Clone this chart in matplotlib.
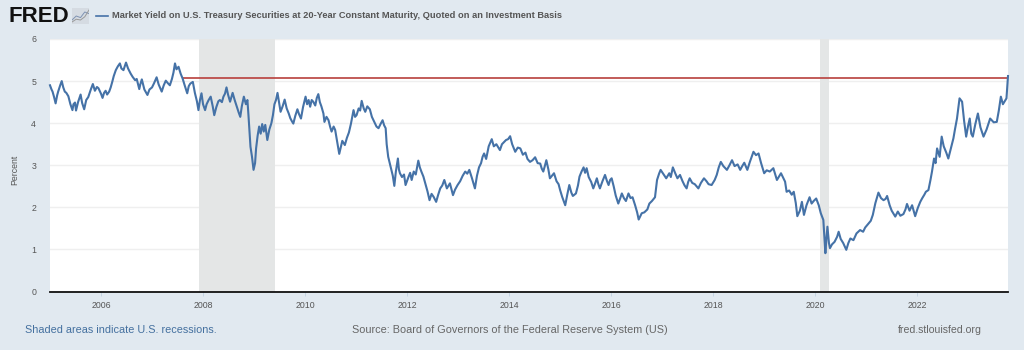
import numpy as np
import matplotlib
matplotlib.use('Agg')
import matplotlib.pyplot as plt
from matplotlib.lines import Line2D

plt.rcParams['font.family'] = ['Liberation Sans', 'DejaVu Sans']

title = 'Market Yield on U.S. Treasury Securities at 20-Year Constant Maturity, Quoted on an Investment Basis'

# one row per calendar year
years = [
2005.00,2005.03,2005.05,2005.08,2005.11,2005.14,2005.16,2005.20,2005.23,2005.26,2005.29,2005.32,2005.36,2005.40,2005.44,2005.46,2005.49,2005.51,2005.55,2005.60,2005.63,2005.67,2005.71,2005.75,2005.80,2005.84,2005.88,2005.92,2005.95,
2006.00,2006.03,2006.06,2006.09,2006.12,2006.16,2006.19,2006.22,2006.25,2006.29,2006.33,2006.37,2006.40,2006.44,2006.46,2006.49,2006.53,2006.58,2006.62,2006.67,2006.70,2006.75,2006.77,2006.80,2006.85,2006.91,2006.95,
2007.00,2007.04,2007.09,2007.13,2007.19,2007.23,2007.27,2007.31,2007.35,2007.39,2007.42,2007.45,2007.48,2007.52,2007.56,2007.60,2007.64,2007.69,2007.72,2007.75,2007.80,2007.84,2007.88,2007.91,2007.94,2007.97,
2008.00,2008.04,2008.07,2008.11,2008.15,2008.19,2008.22,2008.26,2008.30,2008.33,2008.37,2008.40,2008.43,2008.46,2008.49,2008.53,2008.58,2008.62,2008.66,2008.70,2008.73,2008.76,2008.80,2008.84,2008.87,2008.89,2008.91,2008.93,2008.96,2008.99,
2009.02,2009.04,2009.07,2009.10,2009.13,2009.16,2009.19,2009.22,2009.26,2009.30,2009.34,2009.37,2009.40,2009.43,2009.46,2009.49,2009.52,2009.56,2009.60,2009.64,2009.68,2009.71,2009.74,2009.77,2009.81,2009.85,2009.88,2009.92,2009.96,
2010.01,2010.04,2010.07,2010.10,2010.13,2010.16,2010.20,2010.23,2010.26,2010.29,2010.32,2010.36,2010.38,2010.42,2010.46,2010.49,2010.52,2010.56,2010.59,2010.63,2010.67,2010.70,2010.73,2010.78,2010.82,2010.86,2010.90,2010.95,2010.98,
2011.01,2011.05,2011.08,2011.11,2011.15,2011.18,2011.22,2011.27,2011.31,2011.35,2011.40,2011.44,2011.48,2011.52,2011.55,2011.58,2011.60,2011.63,2011.66,2011.69,2011.72,2011.75,2011.78,2011.82,2011.84,2011.86,2011.90,2011.94,2011.97,
2012.03,2012.06,2012.09,2012.13,2012.17,2012.22,2012.25,2012.28,2012.32,2012.36,2012.40,2012.44,2012.48,2012.52,2012.57,2012.61,2012.65,2012.69,2012.73,2012.78,2012.84,2012.90,2012.94,2012.99,
2013.04,2013.09,2013.14,2013.18,2013.22,2013.27,2013.33,2013.37,2013.41,2013.45,2013.48,2013.51,2013.55,2013.60,2013.66,2013.70,2013.75,2013.82,2013.86,2013.90,2013.94,2013.98,
2014.02,2014.06,2014.12,2014.17,2014.22,2014.27,2014.32,2014.36,2014.41,2014.46,2014.51,2014.56,2014.61,2014.64,2014.67,2014.70,2014.73,2014.77,2014.80,2014.84,2014.88,2014.93,2014.97,
2015.00,2015.04,2015.07,2015.10,2015.14,2015.18,2015.22,2015.25,2015.31,2015.35,2015.38,2015.42,2015.46,2015.49,2015.52,2015.56,2015.61,2015.65,2015.69,2015.72,2015.75,2015.78,2015.83,2015.88,2015.92,2015.95,2015.98,
2016.01,2016.05,2016.09,2016.14,2016.18,2016.21,2016.25,2016.29,2016.34,2016.38,2016.42,2016.47,2016.51,2016.54,2016.60,2016.65,2016.71,2016.75,2016.80,2016.86,2016.90,2016.94,2016.97,
2017.03,2017.08,2017.14,2017.17,2017.21,2017.26,2017.30,2017.35,2017.40,2017.44,2017.48,2017.51,2017.54,2017.59,2017.64,2017.71,2017.76,2017.82,2017.87,2017.91,2017.97,
2018.03,2018.07,2018.11,2018.15,2018.20,2018.27,2018.32,2018.37,2018.42,2018.48,2018.53,2018.57,2018.61,2018.67,2018.72,2018.79,2018.84,2018.89,2018.94,
2019.00,2019.05,2019.11,2019.18,2019.25,2019.33,2019.41,2019.44,2019.49,2019.54,2019.58,2019.62,2019.65,2019.70,2019.74,2019.78,2019.83,2019.89,2019.93,2019.97,
2020.02,2020.07,2020.11,2020.16,2020.18,2020.20,2020.22,2020.24,2020.27,2020.29,2020.33,2020.38,2020.43,2020.46,2020.50,2020.55,2020.61,2020.65,2020.69,2020.75,2020.81,2020.88,2020.94,2020.98,
2021.05,2021.09,2021.13,2021.18,2021.24,2021.29,2021.34,2021.38,2021.41,2021.46,2021.50,2021.57,2021.62,2021.67,2021.73,2021.77,2021.80,2021.85,2021.90,2021.96,
2022.01,2022.06,2022.10,2022.14,2022.17,2022.22,2022.26,2022.29,2022.33,2022.36,2022.39,2022.44,2022.48,2022.52,2022.57,2022.61,2022.66,2022.71,2022.74,2022.78,2022.83,2022.88,2022.92,2022.96,
2023.00,2023.03,2023.06,2023.09,2023.14,2023.19,2023.24,2023.30,2023.36,2023.43,2023.50,2023.56,2023.60,2023.64,2023.68,2023.71,2023.75,2023.77,2023.78]

yields = [
4.90,4.80,4.75,4.62,4.47,4.66,4.75,4.90,5.00,4.85,4.75,4.72,4.64,4.45,4.31,4.45,4.49,4.30,4.50,4.68,4.48,4.33,4.55,4.62,4.80,4.93,4.77,4.86,4.83,
4.70,4.60,4.72,4.77,4.68,4.75,4.85,4.98,5.12,5.26,5.35,5.42,5.30,5.26,5.33,5.44,5.30,5.18,5.10,5.02,5.05,4.81,4.92,5.04,4.80,4.67,4.80,
4.85,4.95,5.09,4.92,4.75,4.90,5.01,4.95,4.90,5.05,5.20,5.42,5.28,5.34,5.18,5.06,4.90,4.71,4.88,4.94,4.98,4.72,4.52,4.31,4.55,4.71,
4.45,4.31,4.45,4.55,4.63,4.40,4.19,4.38,4.52,4.55,4.50,4.63,4.70,4.85,4.68,4.51,4.72,4.55,4.40,4.25,4.15,4.40,4.63,4.45,4.55,4.20,3.80,3.44,3.20,2.89,
3.05,3.40,3.70,3.92,3.75,3.98,3.80,3.96,3.60,3.85,4.00,4.19,4.45,4.55,4.72,4.50,4.27,4.40,4.56,4.35,4.23,4.12,4.05,3.99,4.18,4.33,4.22,4.11,4.38,
4.63,4.45,4.55,4.39,4.55,4.51,4.42,4.60,4.69,4.50,4.40,4.23,4.03,4.15,4.07,3.92,3.80,3.92,3.84,3.55,3.27,3.42,3.58,3.48,3.65,3.78,3.99,4.31,4.15,
4.19,4.35,4.30,4.53,4.35,4.27,4.40,4.33,4.15,4.05,3.92,3.88,3.98,4.07,3.95,3.88,3.50,3.20,3.05,2.90,2.75,2.51,2.85,3.16,2.90,2.81,2.72,2.78,2.53,
2.73,2.82,2.65,2.85,2.78,3.11,2.95,2.85,2.73,2.55,2.38,2.17,2.32,2.25,2.13,2.30,2.45,2.52,2.65,2.45,2.57,2.29,2.42,2.53,
2.62,2.75,2.85,2.80,2.89,2.70,2.45,2.75,2.95,3.05,3.20,3.28,3.15,3.45,3.62,3.45,3.50,3.36,3.50,3.55,3.60,3.62,
3.69,3.50,3.32,3.42,3.40,3.25,3.30,3.15,3.08,3.12,3.19,3.05,3.04,2.92,2.85,2.98,3.12,2.90,2.69,2.75,2.81,2.62,2.55,
2.41,2.25,2.15,2.05,2.30,2.53,2.35,2.27,2.33,2.52,2.73,2.85,2.95,2.82,2.93,2.72,2.60,2.45,2.58,2.69,2.55,2.45,2.62,2.77,2.62,2.53,2.65,
2.69,2.50,2.28,2.09,2.22,2.33,2.22,2.15,2.33,2.22,2.24,2.05,1.88,1.71,1.86,1.88,1.95,2.09,2.15,2.24,2.65,2.80,2.89,
2.78,2.69,2.81,2.72,2.95,2.80,2.69,2.77,2.62,2.52,2.45,2.60,2.69,2.58,2.55,2.45,2.58,2.69,2.62,2.55,2.53,
2.65,2.77,2.95,3.08,2.98,2.89,3.00,3.12,2.98,3.02,2.89,2.98,3.06,2.89,3.08,3.32,3.24,3.28,3.05,
2.81,2.88,2.85,2.93,2.65,2.81,2.61,2.37,2.40,2.30,2.37,2.10,1.79,1.92,2.13,1.82,2.05,2.24,2.09,2.15,
2.21,2.05,1.86,1.70,1.30,0.91,1.25,1.54,1.15,1.03,1.12,1.18,1.30,1.42,1.25,1.15,0.99,1.15,1.26,1.22,1.38,1.46,1.42,1.52,
1.62,1.68,1.82,2.10,2.35,2.22,2.17,2.20,2.27,2.05,1.92,1.78,1.90,1.80,1.84,1.95,2.08,1.92,2.05,1.79,
1.98,2.13,2.22,2.30,2.37,2.41,2.65,2.85,3.16,3.05,3.40,3.20,3.68,3.45,3.30,3.16,3.40,3.64,3.85,4.11,4.59,4.51,4.05,3.68,
3.95,4.11,3.75,3.68,3.98,4.23,3.90,3.68,3.85,4.11,4.02,4.03,4.30,4.63,4.45,4.51,4.59,4.95,5.12]

ref_years = [2007.60, 2023.78]
ref_level = [5.07, 5.07]

recessions = [(2007.92, 2009.42), (2020.10, 2020.28)]
xticks = [2006, 2008, 2010, 2012, 2014, 2016, 2018, 2020, 2022]
yticks = [0, 1, 2, 3, 4, 5, 6]

W, H = 1024, 350
bg = '#e1e9f0'
blue = '#4572a7'
grey_text = '#555555'

fig = plt.figure(figsize=(W/100, H/100), dpi=100, facecolor=bg)
ax = fig.add_axes([50/W, 1-291.5/H, 958/W, 252.5/H])
ax.set_xlim(2005, 2023.78)
ax.set_ylim(0, 6)

for a, b in recessions:
    ax.axvspan(a, b, color='#e4e6e6', lw=0, zorder=1)
ax.grid(axis='y', color='#efefef', lw=1, zorder=0)
ax.set_axisbelow(True)

ax.plot(ref_years, ref_level, color='#b8403c', lw=1.2, zorder=2)
ax.plot(years, yields, color=blue, lw=1.5, zorder=3, solid_joinstyle='round', clip_on=False)

for s in ['top', 'right', 'left']:
    ax.spines[s].set_visible(False)
ax.spines['bottom'].set_color('#111111')
ax.spines['bottom'].set_linewidth(1.3)

ax.set_xticks(xticks)
ax.set_yticks(yticks)
ax.tick_params(axis='x', length=3, width=0.6, color='#c0d0e0', labelsize=6.3, labelcolor=grey_text, pad=4)
ax.tick_params(axis='y', length=0, labelsize=6.3, labelcolor=grey_text, pad=10)
ax.text(15/W, 1-170/H, 'Percent', transform=fig.transFigure, rotation=90, ha='center', va='center',
        fontsize=6.3, color=grey_text)

# header
fig.text(8/W, 1-16/H, 'FRED', fontsize=16, fontweight='bold', color='#111111', ha='left', va='center')
icon = fig.add_axes([72/W, 1-24/H, 17/W, 16/H])
icon.plot([0, 1, 2, 3, 4], [1, 2, 1.6, 3, 2.6], color='#7f93b2', lw=0.7)
icon.plot([0, 1, 2, 3, 4], [0.5, 1.2, 1.0, 1.8, 3.5], color='#999999', lw=0.7)
icon.set_xlim(0, 4)
icon.set_ylim(0, 4)
icon.set_xticks([])
icon.set_yticks([])
icon.set_facecolor('#d5dbe2')
for s in icon.spines.values():
    s.set_visible(False)
fig.add_artist(Line2D([96/W, 108/W], [1-16/H, 1-16/H], color=blue, lw=1.2))
fig.text(112/W, 1-16/H, title, fontsize=6.7, fontweight='bold', color='#555555', ha='left', va='center')

# footer
fig.text(25/W, 1-330/H, 'Shaded areas indicate U.S. recessions.', fontsize=7.85, color='#44709f', ha='left', va='center')
fig.text(352/W, 1-330/H, 'Source: Board of Governors of the Federal Reserve System (US)', fontsize=7.8,
         color='#666666', ha='left', va='center')
fig.text(898/W, 1-330/H, 'fred.stlouisfed.org', fontsize=7.6, color='#666666', ha='left', va='center')

fig.savefig('out.png', dpi=100, facecolor=bg)
